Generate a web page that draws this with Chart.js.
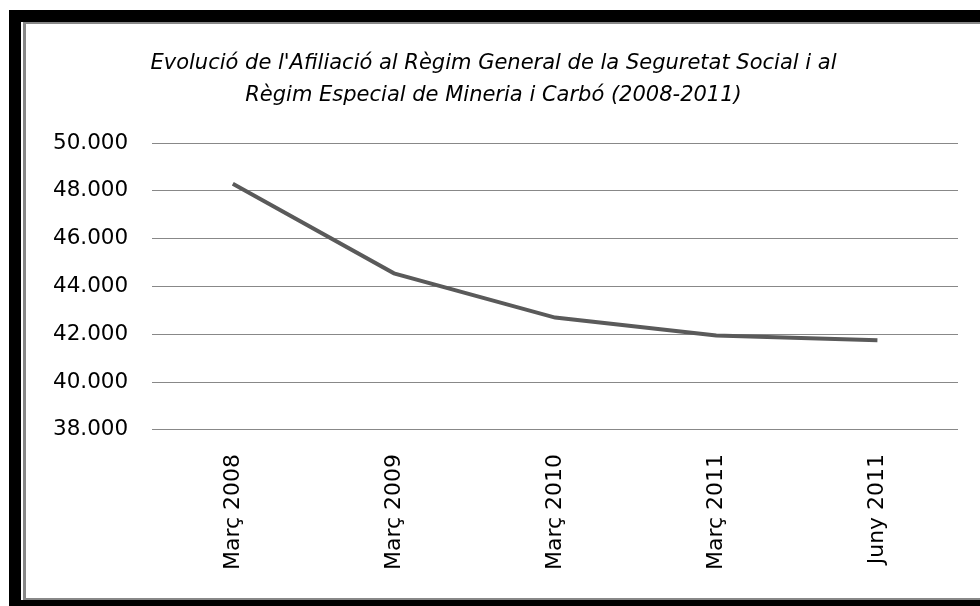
<!DOCTYPE html>
<html>
<head>
<meta charset="utf-8">
<script src="https://cdn.jsdelivr.net/npm/chart.js@4"></script>
<style>
  html, body { margin: 0; padding: 0; background: #fff; overflow: hidden; }
  body { width: 980px; height: 606px; position: relative; }
  #outer { position: absolute; left: 9px; top: 10px; width: 1000px; height: 596px; background: #000; }
  #gap { position: absolute; left: 21px; top: 22px; width: 980px; height: 578px; background: #fff; }
  #box { position: absolute; left: 23px; top: 22px; width: 980px; height: 574px;
         border-left: 3px solid #888; border-top: 2px solid #888; border-bottom: 2px solid #888; background: #fff; }
  #wrap { position: absolute; left: 26px; top: 24px; width: 954px; height: 574px; }
</style>
</head>
<body>
<div id="outer"></div>
<div id="gap"></div>
<div id="box"></div>
<div id="wrap"><canvas id="chart"></canvas></div>
<script>
// categories and values
const periods = ['Març 2008', 'Març 2009', 'Març 2010', 'Març 2011', 'Juny 2011'];
const afiliats = [48300, 44550, 42700, 41950, 41750];
const titleLines = [
  "Evolució de l'Afiliació al Règim General de la Seguretat Social i al",
  'Règim Especial de Mineria i Carbó (2008-2011)'
];

// 50000 -> "50.000"
const fmt = (v) => String(v).replace(/\B(?=(\d{3})+(?!\d))/g, '.');

const ctx = document.getElementById('chart').getContext('2d');
new Chart(ctx, {
  type: 'line',
  data: {
    labels: periods,
    datasets: [{
      data: afiliats,
      borderColor: '#5a5a5a',
      borderWidth: 4,
      pointRadius: 0,
      tension: 0,
      fill: false
    }]
  },
  options: {
    responsive: true,
    maintainAspectRatio: false,
    animation: false,
    layout: { padding: { left: 3, right: 22, top: 0, bottom: 12 } },
    plugins: {
      legend: { display: false },
      tooltip: { enabled: false },
      title: {
        display: true,
        text: titleLines,
        color: '#000',
        font: { family: 'DejaVu Sans', style: 'italic', weight: 'normal', size: 21, lineHeight: 1.55 },
        padding: { top: 23, bottom: 31 }
      }
    },
    scales: {
      x: {
        offset: true,
        grid: { display: false },
        border: { display: false },
        ticks: {
          color: '#000',
          font: { family: 'DejaVu Sans', size: 22 },
          minRotation: 90,
          maxRotation: 90,
          padding: 16
        }
      },
      y: {
        min: 38000,
        max: 50000,
        grid: { color: '#888', lineWidth: 1, drawTicks: false },
        border: { display: false },
        ticks: {
          stepSize: 2000,
          color: '#000',
          font: { family: 'DejaVu Sans', size: 21.5 },
          padding: 24,
          callback: (v) => fmt(v)
        }
      }
    }
  }
});
</script>
</body>
</html>
